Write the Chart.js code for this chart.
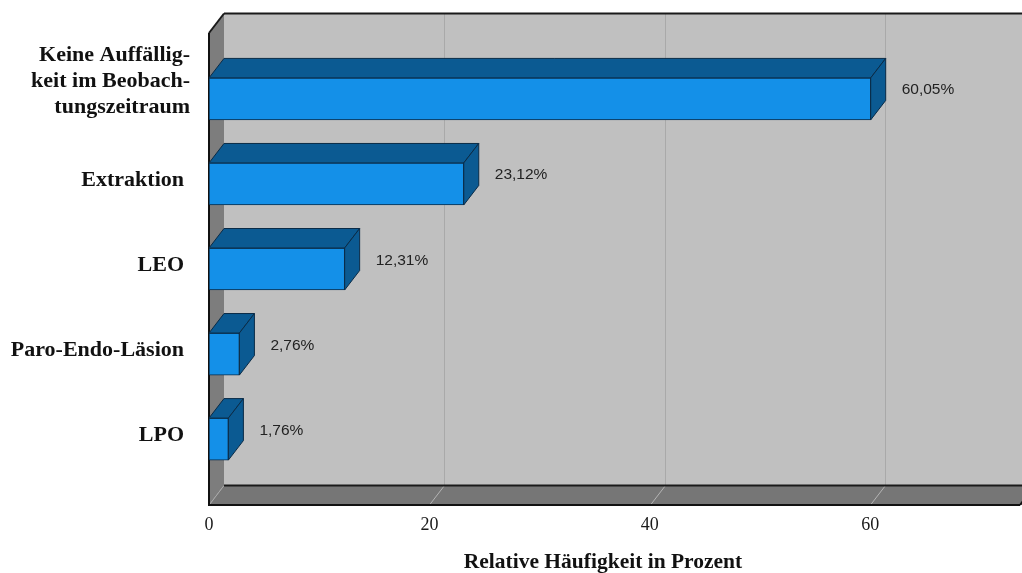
<!DOCTYPE html>
<html>
<head>
<meta charset="utf-8">
<script src="https://cdn.jsdelivr.net/npm/chart.js@4.4.1/dist/chart.umd.min.js"></script>
<style>
  html, body { margin: 0; padding: 0; background: #ffffff; }
  canvas { display: block; }
</style>
</head>
<body>
<canvas id="chart" width="1022" height="573"></canvas>
<script>
// Categories (wrapped lines kept as arrays), values in percent, axis ticks
const categories = [
  ['Keine Auffällig-', 'keit im Beobach-', 'tungszeitraum'],
  ['Extraktion'],
  ['LEO'],
  ['Paro-Endo-Läsion'],
  ['LPO']
];
const percentValues = [60.05, 23.12, 12.31, 2.76, 1.76];
const xTickValues = [0, 20, 40, 60];
const xAxisTitle = 'Relative Häufigkeit in Prozent';

// 3D depth offset of walls and bars
const DEPTH_X = 15;
const DEPTH_Y = -19.5;

const LABEL_FONT = 'bold 22px "Liberation Serif", "DejaVu Serif", serif';
const TITLE_FONT = 'bold 21.5px "Liberation Serif", "DejaVu Serif", serif';

function polygon(ctx, pts, fill, stroke, lw) {
  ctx.beginPath();
  ctx.moveTo(pts[0][0], pts[0][1]);
  for (let i = 1; i < pts.length; i++) ctx.lineTo(pts[i][0], pts[i][1]);
  ctx.closePath();
  if (fill) { ctx.fillStyle = fill; ctx.fill(); }
  if (stroke) { ctx.strokeStyle = stroke; ctx.lineWidth = lw || 1; ctx.stroke(); }
}

function line(ctx, x1, y1, x2, y2, color, lw) {
  ctx.beginPath();
  ctx.moveTo(x1, y1);
  ctx.lineTo(x2, y2);
  ctx.strokeStyle = color;
  ctx.lineWidth = lw;
  ctx.stroke();
}

const box3d = {
  id: 'box3d',
  beforeDatasetsDraw(chart) {
    const { ctx, chartArea: a, scales: { x } } = chart;
    const L = a.left, R = a.right, T = a.top, B = a.bottom;
    const dx = DEPTH_X, dy = DEPTH_Y;
    ctx.save();

    // back wall
    ctx.fillStyle = '#c0c0c0';
    ctx.fillRect(L + dx, T + dy, R - L + 40, B - T);

    // vertical grid lines on the back wall
    xTickValues.forEach(v => {
      if (v === 0) return;
      const px = Math.round(x.getPixelForValue(v)) + 0.5;
      line(ctx, px + dx, T + dy, px + dx, B + dy, '#a9a9a9', 1);
    });

    // left wall
    polygon(ctx, [[L, T], [L + dx, T + dy], [L + dx, B + dy], [L, B]], '#7d7d7d');

    // floor
    polygon(ctx, [[L, B], [L + dx, B + dy], [R + dx + 40, B + dy], [R + 40, B]], '#767676');

    // grid lines running across the floor
    xTickValues.forEach(v => {
      if (v === 0) return;
      const px = Math.round(x.getPixelForValue(v)) + 0.5;
      line(ctx, px, B, px + dx, B + dy, '#b4b4b4', 1);
    });
    // floor / left wall seam
    line(ctx, L + 1, B - 1, L + dx, B + dy, '#a8a8a8', 1);

    // edges
    line(ctx, L + dx, T + dy, R + dx + 40, T + dy, '#1a1a1a', 2);          // back top
    line(ctx, L + dx, B + dy, R + dx + 40, B + dy, '#1a1a1a', 2);          // back bottom
    line(ctx, L, T, L + dx, T + dy, '#1a1a1a', 2);                         // left wall top
    line(ctx, L, T, L, B, '#111111', 2);                                   // front left
    line(ctx, L - 1, B, R, B, '#111111', 2);                               // front bottom
    line(ctx, R, B, R + dx, B + dy, '#111111', 2);                         // front right corner

    ctx.restore();
  },
  afterDatasetsDraw(chart) {
    const { ctx } = chart;
    const meta = chart.getDatasetMeta(0);
    const dx = DEPTH_X, dy = DEPTH_Y;
    ctx.save();
    ctx.lineJoin = 'round';
    meta.data.forEach((bar, i) => {
      const { x, y, base, height } = bar.getProps(['x', 'y', 'base', 'height'], true);
      const top = y - height / 2, bottom = y + height / 2;
      // top face
      polygon(ctx, [[base, top], [base + dx, top + dy], [x + dx, top + dy], [x, top]], '#0b5a92', '#0a2b47', 1);
      // end face
      polygon(ctx, [[x, top], [x + dx, top + dy], [x + dx, bottom + dy], [x, bottom]], '#0b5a92', '#0a2b47', 1);
      // value label
      ctx.fillStyle = '#222222';
      ctx.font = '15.5px "Liberation Sans", Arial, sans-serif';
      ctx.textAlign = 'left';
      ctx.textBaseline = 'middle';
      const txt = percentValues[i].toFixed(2).replace('.', ',') + '%';
      ctx.fillText(txt, x + dx + 16, y + dy / 2 + 1);
    });
    ctx.restore();
  },
  afterDraw(chart) {
    const { ctx, scales: { y } } = chart;
    ctx.save();
    ctx.fillStyle = '#111111';
    ctx.font = LABEL_FONT;
    ctx.textAlign = 'right';
    ctx.textBaseline = 'middle';
    categories.forEach((lines, i) => {
      const cy = y.getPixelForValue(i);
      if (lines.length > 1) {
        const lh = 26;
        const start = cy - 18 - (lines.length - 1) * lh / 2;
        lines.forEach((t, k) => ctx.fillText(t, 190, start + k * lh));
      } else {
        ctx.fillText(lines[0], 184, cy - 4);
      }
    });
    // axis title
    ctx.font = TITLE_FONT;
    ctx.textAlign = 'center';
    ctx.fillText(xAxisTitle, 603, 562);
    ctx.restore();
  }
};

new Chart(document.getElementById('chart'), {
  type: 'bar',
  data: {
    datasets: [{
      data: percentValues.map((v, i) => ({ x: v, y: i })),
      backgroundColor: '#1490e8',
      borderColor: '#0a2b47',
      borderWidth: 1,
      borderSkipped: false,
      barThickness: 42
    }]
  },
  options: {
    indexAxis: 'y',
    responsive: false,
    devicePixelRatio: 1,
    animation: false,
    layout: { padding: { left: 209, right: 2, top: 33, bottom: 0 } },
    plugins: { legend: { display: false }, tooltip: { enabled: false } },
    scales: {
      y: {
        type: 'linear',
        reverse: true,
        offset: false,
        min: -0.775,
        max: 4.775,
        display: false
      },
      x: {
        type: 'linear',
        position: 'bottom',
        min: 0,
        max: 73.6,
        grid: { display: false, drawTicks: false },
        border: { display: false },
        afterFit(scale) { scale.height = 68; },
        afterBuildTicks(scale) { scale.ticks = xTickValues.map(v => ({ value: v })); },
        ticks: {
          includeBounds: false,
          padding: 9,
          color: '#1a1a1a',
          font: { family: '"Liberation Serif", "DejaVu Serif", serif', size: 18 }
        }
      }
    }
  },
  plugins: [box3d]
});
</script>
</body>
</html>
